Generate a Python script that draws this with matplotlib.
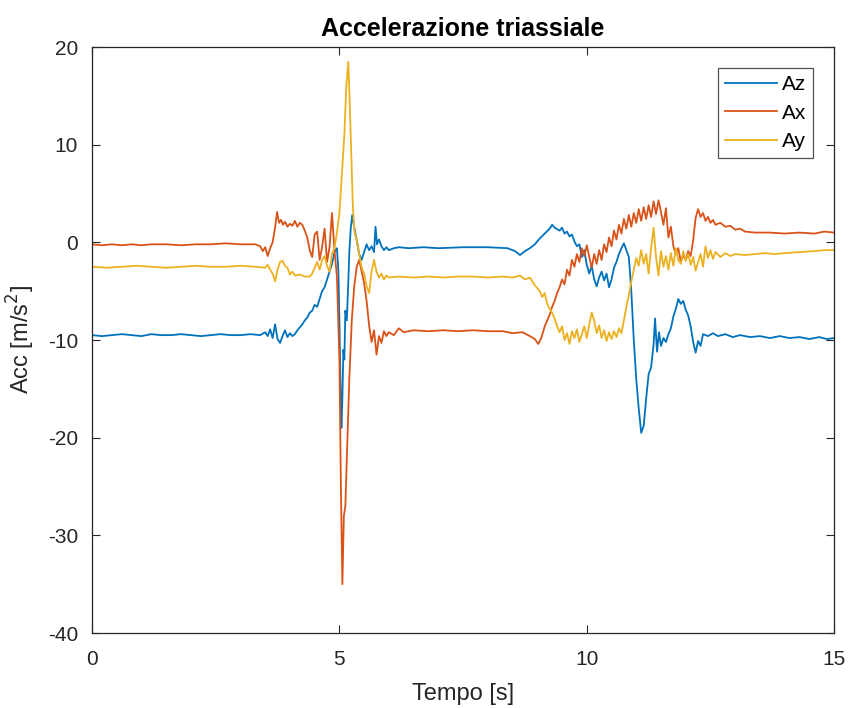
import matplotlib
matplotlib.use("Agg")
from matplotlib import pyplot as plt

# accelerazione lungo z (tempo [s], valore [m/s^2])
az = [(0.0, -9.5), (0.2, -9.6), (0.4, -9.5), (0.6, -9.4), (0.8, -9.5), (1.0, -9.6), (1.2, -9.4),
      (1.4, -9.5), (1.6, -9.5), (1.8, -9.4), (2.0, -9.5), (2.2, -9.6), (2.4, -9.5), (2.6, -9.4),
      (2.8, -9.5), (3.0, -9.5), (3.2, -9.4), (3.4, -9.5), (3.5, -9.2), (3.55, -9.6), (3.6, -8.9),
      (3.65, -9.8), (3.7, -8.4), (3.75, -9.9), (3.8, -10.3), (3.85, -9.6), (3.9, -9.0), (3.95, -9.7),
      (4.0, -9.3), (4.05, -9.6), (4.1, -9.4), (4.15, -9.0), (4.2, -8.7), (4.25, -8.4), (4.3, -8.0),
      (4.35, -7.7), (4.4, -7.2), (4.45, -7.0), (4.5, -6.4), (4.55, -6.6), (4.6, -5.8), (4.65, -5.0),
      (4.7, -4.6), (4.75, -3.8), (4.8, -3.0), (4.85, -2.2), (4.9, -1.0), (4.95, -0.6), (4.98, -3.0),
      (5.0, -8.0), (5.02, -14.0), (5.04, -19.0), (5.06, -16.0), (5.08, -11.0), (5.1, -12.0),
      (5.12, -7.0), (5.15, -8.0), (5.18, -4.0), (5.2, -1.0), (5.23, 1.5), (5.26, 2.8), (5.3, 1.5),
      (5.35, 0.2), (5.4, -1.2), (5.45, -1.8), (5.5, -1.0), (5.55, -0.2), (5.6, -0.8), (5.65, -0.4),
      (5.7, -1.0), (5.73, 1.6), (5.76, -0.2), (5.8, 0.3), (5.85, -0.4), (5.9, -0.8), (5.95, -0.5),
      (6.0, -0.8), (6.1, -0.6), (6.2, -0.5), (6.4, -0.6), (6.7, -0.5), (7.0, -0.6), (7.5, -0.5),
      (8.0, -0.5), (8.4, -0.6), (8.55, -0.9), (8.65, -1.3), (8.75, -0.9), (8.85, -0.6), (8.95, -0.2),
      (9.05, 0.4), (9.15, 0.9), (9.25, 1.4), (9.3, 1.8), (9.35, 1.5), (9.45, 1.2), (9.5, 1.5),
      (9.55, 0.9), (9.6, 1.1), (9.65, 0.6), (9.7, 0.8), (9.75, 0.1), (9.8, -0.4), (9.85, -0.2),
      (9.9, -1.5), (9.95, -0.8), (10.0, -2.3), (10.05, -3.2), (10.1, -2.4), (10.15, -3.8),
      (10.2, -4.5), (10.25, -3.6), (10.3, -3.0), (10.35, -3.9), (10.4, -3.2), (10.45, -4.6),
      (10.5, -3.8), (10.55, -2.6), (10.6, -2.0), (10.65, -1.2), (10.7, -0.6), (10.75, -0.1),
      (10.8, -0.8), (10.85, -1.5), (10.9, -5.0), (10.95, -10.0), (11.0, -14.0), (11.05, -17.0),
      (11.1, -19.5), (11.15, -18.8), (11.2, -16.0), (11.25, -13.5), (11.3, -12.8), (11.35, -10.5),
      (11.38, -7.8), (11.42, -11.2), (11.46, -9.2), (11.5, -10.6), (11.55, -9.8), (11.6, -10.2),
      (11.65, -9.4), (11.7, -8.8), (11.75, -7.6), (11.8, -6.8), (11.85, -5.8), (11.9, -6.3),
      (11.95, -6.0), (12.0, -6.9), (12.05, -7.5), (12.1, -8.6), (12.15, -10.2), (12.2, -11.3),
      (12.25, -10.1), (12.3, -10.6), (12.35, -9.4), (12.45, -9.6), (12.55, -9.3), (12.65, -9.6),
      (12.8, -9.4), (12.95, -9.7), (13.1, -9.5), (13.3, -9.7), (13.5, -9.6), (13.7, -9.8),
      (13.9, -9.6), (14.1, -9.8), (14.3, -9.7), (14.5, -9.9), (14.7, -9.7), (14.85, -9.9), (15.0, -9.8)]

# accelerazione lungo x
ax_ = [(0.0, -0.2), (0.2, -0.3), (0.4, -0.2), (0.6, -0.3), (0.8, -0.2), (1.0, -0.3), (1.2, -0.2),
       (1.5, -0.2), (1.8, -0.3), (2.1, -0.2), (2.4, -0.2), (2.7, -0.1), (3.0, -0.2), (3.3, -0.2),
       (3.4, -0.4), (3.45, -0.9), (3.5, -0.5), (3.55, -1.4), (3.6, -0.6), (3.65, 0.0), (3.7, 1.5),
       (3.74, 3.1), (3.78, 2.0), (3.82, 2.3), (3.86, 1.8), (3.9, 2.1), (3.95, 1.6), (4.0, 1.9),
       (4.05, 1.7), (4.1, 2.2), (4.15, 1.6), (4.2, 2.0), (4.25, 1.8), (4.3, 1.2), (4.35, 0.5),
       (4.4, -0.8), (4.45, -1.5), (4.5, 0.8), (4.55, 1.1), (4.6, -1.8), (4.65, -0.5), (4.7, 1.4),
       (4.75, -2.0), (4.8, -0.5), (4.85, 3.0), (4.9, -0.8), (4.95, -3.5), (5.0, -12.0), (5.03, -25.0),
       (5.06, -35.0), (5.09, -28.0), (5.12, -27.0), (5.15, -22.0), (5.2, -14.0), (5.25, -8.0),
       (5.3, -4.5), (5.35, -2.5), (5.4, -1.8), (5.45, -3.0), (5.5, -4.2), (5.55, -6.0), (5.6, -8.5),
       (5.65, -10.2), (5.7, -9.0), (5.75, -11.5), (5.8, -9.6), (5.85, -10.3), (5.9, -9.1),
       (5.95, -9.6), (6.0, -9.2), (6.1, -9.5), (6.2, -8.8), (6.3, -9.2), (6.5, -9.0), (6.8, -9.1),
       (7.1, -9.0), (7.4, -9.1), (7.7, -9.0), (8.0, -9.1), (8.3, -9.1), (8.5, -9.3), (8.7, -9.2),
       (8.85, -9.6), (8.95, -9.9), (9.02, -10.4), (9.08, -9.8), (9.15, -8.6), (9.2, -8.0),
       (9.25, -7.4), (9.3, -6.6), (9.35, -6.0), (9.4, -5.2), (9.45, -4.6), (9.5, -3.8), (9.55, -4.3),
       (9.6, -2.8), (9.65, -3.4), (9.7, -1.8), (9.75, -2.5), (9.8, -1.2), (9.85, -2.0), (9.9, -0.6),
       (9.95, -1.4), (10.0, -0.3), (10.05, -1.5), (10.1, -2.6), (10.15, -1.2), (10.2, -2.2),
       (10.25, -0.8), (10.3, -1.8), (10.35, -0.2), (10.4, -1.0), (10.45, 0.5), (10.5, -0.4),
       (10.55, 1.2), (10.6, 0.3), (10.65, 1.8), (10.7, 0.9), (10.75, 2.4), (10.8, 1.4), (10.85, 2.8),
       (10.9, 1.6), (10.95, 3.0), (11.0, 2.0), (11.05, 3.4), (11.1, 2.2), (11.15, 3.6), (11.2, 2.4),
       (11.25, 3.8), (11.3, 2.6), (11.35, 4.2), (11.4, 2.9), (11.45, 4.3), (11.5, 3.1), (11.55, 1.8),
       (11.6, 3.5), (11.65, 0.5), (11.7, 1.6), (11.75, -0.4), (11.8, -1.2), (11.85, -0.6),
       (11.9, -2.0), (11.95, -1.3), (12.0, -1.8), (12.05, -0.9), (12.1, -1.4), (12.15, 0.2),
       (12.2, 2.5), (12.25, 3.4), (12.3, 2.6), (12.35, 3.0), (12.4, 2.2), (12.45, 2.6), (12.5, 2.0),
       (12.55, 2.3), (12.6, 1.8), (12.7, 2.0), (12.8, 1.6), (12.9, 1.7), (13.0, 1.3), (13.1, 1.4),
       (13.2, 1.1), (13.4, 1.0), (13.7, 1.0), (14.0, 0.9), (14.3, 1.0), (14.6, 0.9), (14.8, 1.1),
       (15.0, 1.0)]

# accelerazione lungo y
ay = [(0.0, -2.5), (0.3, -2.6), (0.6, -2.5), (0.9, -2.4), (1.2, -2.5), (1.5, -2.6), (1.8, -2.5),
      (2.1, -2.4), (2.4, -2.5), (2.7, -2.5), (3.0, -2.4), (3.3, -2.5), (3.5, -2.6), (3.55, -2.3),
      (3.6, -2.8), (3.65, -3.2), (3.7, -4.0), (3.75, -2.8), (3.8, -2.0), (3.85, -1.9), (3.9, -2.4),
      (3.95, -2.6), (4.0, -3.3), (4.05, -3.0), (4.1, -3.4), (4.2, -3.3), (4.3, -3.5), (4.4, -3.5),
      (4.45, -3.2), (4.5, -2.6), (4.55, -2.0), (4.6, -2.8), (4.65, -1.8), (4.7, -1.4), (4.75, -2.4),
      (4.8, -3.0), (4.85, -1.2), (4.9, -0.6), (4.95, 1.0), (5.0, 3.0), (5.05, 7.0), (5.1, 11.0),
      (5.14, 16.0), (5.18, 18.5), (5.21, 14.0), (5.24, 9.0), (5.27, 4.0), (5.3, 1.2), (5.35, 0.2),
      (5.4, -1.2), (5.45, -2.6), (5.5, -3.2), (5.55, -4.5), (5.6, -5.2), (5.65, -3.0), (5.7, -1.8),
      (5.75, -3.0), (5.8, -3.6), (5.85, -3.2), (5.9, -3.8), (5.95, -3.4), (6.0, -3.6), (6.2, -3.5),
      (6.5, -3.6), (6.8, -3.5), (7.1, -3.6), (7.4, -3.5), (7.7, -3.5), (8.0, -3.6), (8.3, -3.5),
      (8.5, -3.6), (8.65, -3.4), (8.75, -3.8), (8.85, -3.6), (8.95, -4.4), (9.05, -5.0), (9.1, -5.6),
      (9.15, -5.2), (9.2, -6.3), (9.25, -6.8), (9.3, -7.2), (9.35, -7.8), (9.4, -8.6), (9.45, -9.2),
      (9.5, -8.6), (9.55, -10.0), (9.6, -9.3), (9.65, -10.4), (9.7, -9.1), (9.75, -9.8), (9.8, -8.9),
      (9.85, -10.2), (9.9, -9.4), (9.95, -8.6), (10.0, -9.8), (10.05, -8.4), (10.1, -7.2),
      (10.15, -8.0), (10.2, -9.3), (10.25, -8.5), (10.3, -9.8), (10.35, -9.0), (10.4, -10.1),
      (10.45, -9.2), (10.5, -9.9), (10.55, -9.1), (10.6, -9.7), (10.65, -8.8), (10.7, -9.3),
      (10.75, -8.0), (10.8, -6.6), (10.85, -5.4), (10.9, -4.0), (10.95, -2.8), (11.0, -1.6),
      (11.05, -2.4), (11.1, -0.8), (11.15, -2.2), (11.2, -1.2), (11.25, -3.2), (11.3, -0.6),
      (11.35, 1.5), (11.4, -1.5), (11.45, -3.4), (11.5, -0.9), (11.55, -2.5), (11.6, -1.4),
      (11.65, -2.8), (11.7, -1.1), (11.75, -2.4), (11.8, -0.6), (11.85, -1.8), (11.9, -2.2),
      (11.95, -0.9), (12.0, -1.9), (12.05, -1.2), (12.1, -2.3), (12.15, -1.5), (12.2, -2.9),
      (12.25, -2.0), (12.3, -1.2), (12.35, -2.5), (12.4, -0.4), (12.45, -1.6), (12.5, -0.8),
      (12.55, -1.7), (12.6, -1.0), (12.7, -1.5), (12.8, -1.1), (12.9, -1.4), (13.0, -1.2),
      (13.2, -1.3), (13.4, -1.2), (13.6, -1.1), (13.8, -1.2), (14.0, -1.1), (14.3, -1.0),
      (14.6, -0.9), (14.8, -0.8), (15.0, -0.8)]

plt.rcParams['font.family'] = ['Liberation Sans', 'DejaVu Sans']
plt.rcParams['axes.unicode_minus'] = False

fig = plt.figure(figsize=(8.53, 7.08), dpi=100)
ax = fig.add_axes([0.1079, 0.1059, 0.870, 0.8277])

for serie, col, lab in [(az, '#0072BD', 'Az'), (ax_, '#D95319', 'Ax'), (ay, '#EDB120', 'Ay')]:
    t = [p[0] for p in serie]
    v = [p[1] for p in serie]
    ax.plot(t, v, color=col, lw=1.3, label=lab)

ax.set_xlim(0, 15)
ax.set_ylim(-40, 20)
ax.set_xticks([0, 5, 10, 15])
ax.set_yticks([-40, -30, -20, -10, 0, 10, 20])
ax.tick_params(direction='in', top=True, right=True, length=6, width=0.8,
               labelsize=15, colors='#262626')
ax.tick_params(axis='x', pad=12)
ax.tick_params(axis='y', pad=10)
for s in ax.spines.values():
    s.set_color('#262626')
    s.set_linewidth(0.9)

ax.set_title('Accelerazione triassiale', fontsize=18, fontweight='bold', color='black', pad=8)
ax.set_xlabel('Tempo [s]', fontsize=17, color='#262626', labelpad=10)
ax.set_ylabel('Acc [m/s$^2$]', fontsize=17, color='#262626', labelpad=8)

leg = ax.legend(loc='upper right', fontsize=15, frameon=True, fancybox=False,
                edgecolor='#262626', handlelength=2.5, borderaxespad=1.0,
                labelspacing=0.45, borderpad=0.35, handletextpad=0.2)
leg.get_frame().set_linewidth(0.9)

fig.savefig('out.png', dpi=100, facecolor='white')
